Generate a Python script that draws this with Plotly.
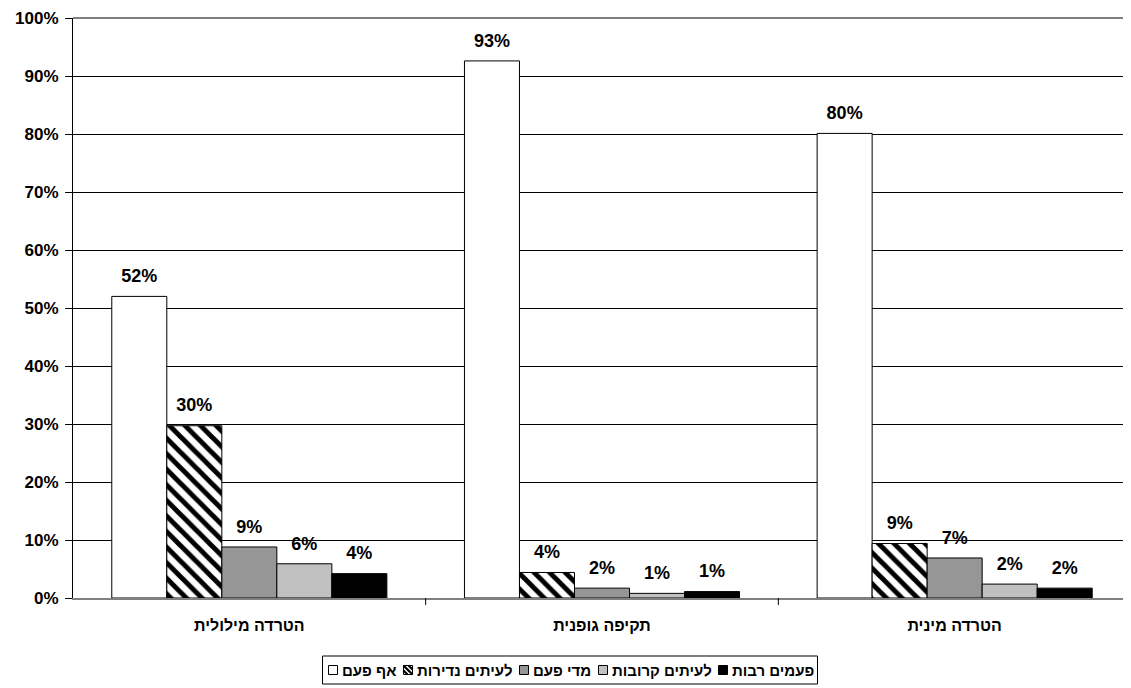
import plotly.graph_objects as go

categories = ["הטרדה מילולית", "תקיפה גופנית", "הטרדה מינית"]
series_names = ["אף פעם", "לעיתים נדירות", "מדי פעם", "לעיתים קרובות", "פעמים רבות"]
never = [52.0, 92.6, 80.1]
rarely = [29.7, 4.4, 9.4]
sometimes = [8.8, 1.7, 6.9]
often = [5.9, 0.8, 2.4]
many = [4.2, 1.1, 1.7]
y_ticks = list(range(0, 101, 10))
y_labels = [f"<b>{v}%</b>" for v in y_ticks]

values = [never, rarely, sometimes, often, many]
colors = ["#FFFFFF", "#FFFFFF", "#969696", "#C0C0C0", "#000000"]

FONT = "Liberation Sans, Arial, sans-serif"
GAP = 0.22
W, H = 1123, 680
ML, MR, MT, MB = 65, 0, 10, 90
PW, PH = W - ML - MR, H - MT - MB

fig = go.Figure()
for i, (name, vals, col) in enumerate(zip(series_names, values, colors)):
    marker = dict(color=col, line=dict(color="#000000", width=1))
    if i == 1:
        marker["pattern"] = dict(shape="\\", fgcolor="#000000", bgcolor="#FFFFFF",
                                 size=11, solidity=0.45, fillmode="replace")
    fig.add_trace(go.Bar(
        x=categories, y=vals, name=name, marker=marker,
        offsetgroup=str(i), hoverinfo="skip", showlegend=False,
    ))
# value labels, grouped like the bars
for i, (name, vals) in enumerate(zip(series_names, values)):
    fig.add_trace(go.Scatter(
        x=categories, y=vals, mode="markers+text",
        offsetgroup=str(i), showlegend=False, hoverinfo="skip",
        marker=dict(size=14, opacity=0, color="#000000"),
        text=[f"<b>{round(v):.0f}%</b>" for v in vals],
        textposition="top center", cliponaxis=False,
        textfont=dict(family=FONT, size=18, color="#000000"),
    ))

fig.update_layout(
    width=W, height=H,
    margin=dict(l=ML, r=MR, t=MT, b=MB, autoexpand=False),
    paper_bgcolor="#FFFFFF", plot_bgcolor="#FFFFFF",
    barmode="group", bargap=GAP, bargroupgap=0,
    scattermode="group", scattergap=GAP,
    font=dict(family=FONT, size=14, color="#000000"),
    showlegend=False,
)
fig.update_xaxes(
    showline=True, linecolor="#808080", linewidth=2,
    tickvals=categories, ticktext=[f"<b>{c}</b>" for c in categories],
    tickfont=dict(family=FONT, size=16, color="#000000"),
    ticks="", showgrid=False, ticklabelstandoff=12,
)
fig.update_yaxes(
    range=[0, 100], tickvals=y_ticks, ticktext=y_labels,
    showgrid=True, gridcolor="#000000", gridwidth=1,
    showline=True, linecolor="#000000", linewidth=1,
    ticks="outside", ticklen=7, tickcolor="#000000",
    tickfont=dict(family=FONT, size=17, color="#000000"),
    ticklabelstandoff=3,
    zeroline=False,
)

# category separator ticks
for k in range(1, len(categories)):
    fig.add_shape(type="line", xref="x", yref="paper",
                  x0=k - 0.5, x1=k - 0.5, y0=0, y1=-0.012,
                  line=dict(color="#000000", width=1))
fig.add_shape(type="line", xref="paper", yref="paper", x0=0, x1=1, y0=1, y1=1,
              line=dict(color="#808080", width=2))

# ---- legend drawn in the chart's own style ----
def px_x(px):  # figure pixel -> paper x
    return (px - ML) / PW

def px_y(py):  # figure pixel (from top) -> paper y
    return (H - MB - py) / PH

text_w = [53, 94, 57, 98, 80]  # approximate rendered widths at 15px bold
sw, sw_gap, item_gap, pad = 9, 4, 9, 6
total = sum(text_w) + len(text_w) * (sw + sw_gap) + (len(text_w) - 1) * item_gap
center_x = 562
leg_left, leg_right = center_x - total / 2 - pad, center_x + total / 2 + pad
leg_top, leg_bot = 648, 676
leg_mid = (leg_top + leg_bot) / 2
fig.add_shape(type="rect", xref="paper", yref="paper",
              x0=px_x(leg_left), x1=px_x(leg_right), y0=px_y(leg_bot), y1=px_y(leg_top),
              line=dict(color="#000000", width=1), fillcolor="rgba(0,0,0,0)")
x = leg_left + pad
for i, (name, col) in enumerate(zip(series_names, colors)):
    sx0, sx1 = x, x + sw
    sy0, sy1 = leg_mid - sw / 2, leg_mid + sw / 2
    fig.add_shape(type="rect", xref="paper", yref="paper",
                  x0=px_x(sx0), x1=px_x(sx1), y0=px_y(sy1), y1=px_y(sy0),
                  line=dict(color="#000000", width=1), fillcolor=col)
    if i == 1:
        for off in (-5, 0, 5):
            ax0, ay0 = sx0 + max(off, 0), sy0 + max(-off, 0)
            ax1, ay1 = sx1 - max(-off, 0), sy1 - max(off, 0)
            fig.add_shape(type="line", xref="paper", yref="paper",
                          x0=px_x(ax0), y0=px_y(ay0), x1=px_x(ax1), y1=px_y(ay1),
                          line=dict(color="#000000", width=2.2))
    fig.add_annotation(xref="paper", yref="paper", x=px_x(sx1 + sw_gap), y=px_y(leg_mid),
                       xanchor="left", yanchor="middle", showarrow=False,
                       text=f"<b>{name}</b>", borderpad=0, borderwidth=0,
                       font=dict(family=FONT, size=15, color="#000000"))
    x = sx1 + sw_gap + text_w[i] + item_gap

fig.write_html("out.html")
